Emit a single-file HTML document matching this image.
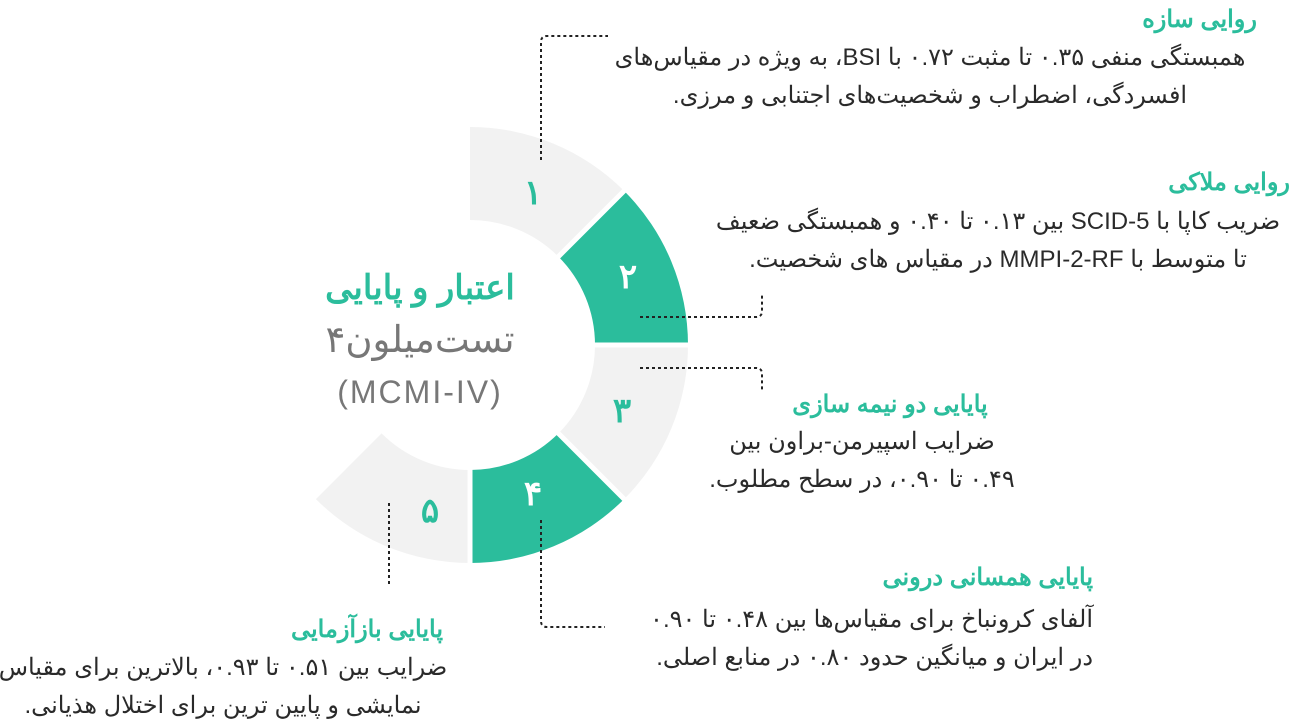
<!DOCTYPE html>
<html><head><meta charset="utf-8"><style>
body{margin:0;background:#fff;width:1291px;height:727px;overflow:hidden;position:relative;font-family:"Liberation Sans","Noto Sans CJK SC",sans-serif}
.t{position:absolute;direction:rtl;color:#2a2a2a;font-size:24px;line-height:38px;white-space:nowrap}
.h{color:#2bbd9c;font-weight:bold;font-size:24px;line-height:36px}
</style></head><body>
<svg width="1291" height="727" style="position:absolute;left:0;top:0">
<g>
<path d="M470,127 A218,218 0 0 1 624.1,190.9 L558.4,256.6 A125,125 0 0 0 470,220 Z" fill="#f2f2f2"/>
<path d="M624.1,190.9 A218,218 0 0 1 688,345 L595,345 A125,125 0 0 0 558.4,256.6 Z" fill="#2bbd9c"/>
<path d="M688,345 A218,218 0 0 1 624.1,499.1 L558.4,433.4 A125,125 0 0 0 595,345 Z" fill="#f2f2f2"/>
<path d="M624.1,499.1 A218,218 0 0 1 470,563 L470,470 A125,125 0 0 0 558.4,433.4 Z" fill="#2bbd9c"/>
<path d="M470,563 A218,218 0 0 1 315.9,499.1 L381.6,433.4 A125,125 0 0 0 470,470 Z" fill="#f2f2f2"/>
</g>
<g stroke="#fff" stroke-width="5">
<line x1="470" y1="345" x2="630" y2="185"/><line x1="470" y1="345" x2="690" y2="345"/>
<line x1="470" y1="345" x2="630" y2="505"/><line x1="470" y1="345" x2="470" y2="570"/>
</g>
<g font-weight="bold" font-size="34" text-anchor="middle" font-family="Liberation Sans,sans-serif">
<text x="533" y="204" fill="#2bbd9c">۱</text><text x="628" y="288" fill="#fff">۲</text><text x="622" y="422" fill="#2bbd9c">۳</text><text x="533" y="505" fill="#fff">۴</text><text x="430" y="522" fill="#2bbd9c">۵</text>
</g>
<g fill="none" stroke="#222" stroke-width="2" stroke-dasharray="3,3">
<path d="M541,160 V42 Q541,36 547,36 H608"/>
<path d="M640,317 H756 Q762,317 762,311 V295"/>
<path d="M640,368 H756 Q762,368 762,374 V390"/>
<path d="M541,520 V621 Q541,627 547,627 H605"/>
<path d="M389,503 V585"/>
</g>
</svg>
<div class="t h" style="left:300px;top:268px;width:240px;text-align:center;font-size:34px;line-height:40px">اعتبار و پایایی</div>
<div class="t" style="left:300px;top:318px;width:240px;text-align:center;font-size:37px;line-height:44px;color:#777">تست‌میلون۴</div>
<div class="t" style="left:300px;top:372px;width:240px;text-align:center;font-size:32px;line-height:40px;color:#777;direction:ltr;letter-spacing:2px">(MCMI-IV)</div>

<div class="t h" style="left:900px;top:2px;width:357px;text-align:right">روایی سازه</div>
<div class="t" style="left:560px;top:39px;width:740px;text-align:center">همبستگی منفی ۰.۳۵ تا مثبت ۰.۷۲ با BSI، به ویژه در مقیاس‌های<br>افسردگی، اضطراب و شخصیت‌های اجتنابی و مرزی.</div>

<div class="t h" style="left:900px;top:165px;width:390px;text-align:right">روایی ملاکی</div>
<div class="t" style="left:688px;top:203px;width:620px;text-align:center">ضریب کاپا با SCID-5 بین ۰.۱۳ تا ۰.۴۰ و همبستگی ضعیف<br>تا متوسط با MMPI-2-RF در مقیاس های شخصیت.</div>

<div class="t h" style="left:740px;top:387px;width:300px;text-align:center">پایایی دو نیمه سازی</div>
<div class="t" style="left:672px;top:423px;width:380px;text-align:center">ضرایب اسپیرمن-براون بین<br>۰.۴۹ تا ۰.۹۰، در سطح مطلوب.</div>

<div class="t h" style="left:750px;top:560px;width:343px;text-align:right">پایایی همسانی درونی</div>
<div class="t" style="left:580px;top:601px;width:513px;text-align:right">آلفای کرونباخ برای مقیاس‌ها بین ۰.۴۸ تا ۰.۹۰<br>در ایران و میانگین حدود ۰.۸۰ در منابع اصلی.</div>

<div class="t h" style="left:150px;top:612px;width:293px;text-align:right">پایایی بازآزمایی</div>
<div class="t" style="left:-20px;top:649px;width:486px;text-align:center">ضرایب بین ۰.۵۱ تا ۰.۹۳، بالاترین برای مقیاس<br>نمایشی و پایین ترین برای اختلال هذیانی.</div>
</body></html>
